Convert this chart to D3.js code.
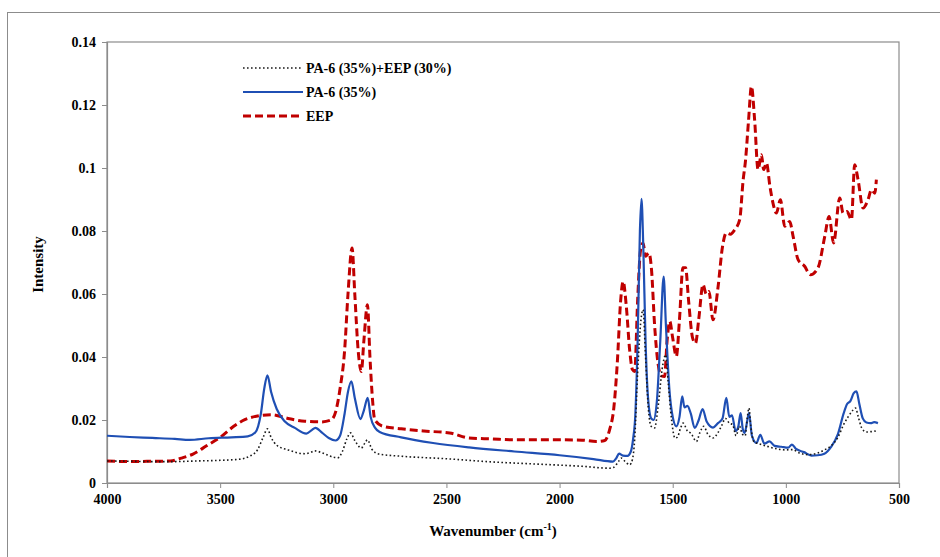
<!DOCTYPE html>
<html>
<head>
<meta charset="utf-8">
<script src="https://cdn.jsdelivr.net/npm/d3@7"></script>
<style>
  body { margin: 0; background: #fff; }
  svg { display: block; }
</style>
</head>
<body>
<svg id="chart"></svg>
<script>
// wavenumber (cm-1) / intensity pairs
var blendWave = [4000, 3900, 3800, 3700, 3600, 3500, 3420, 3370, 3335, 3310, 3291, 3275, 3250, 3200, 3126, 3100, 3082, 3040, 3000, 2980, 2960, 2940, 2924, 2905, 2876, 2862, 2849, 2830, 2800, 2700, 2500, 2300, 2100, 1900, 1780, 1760, 1740, 1727, 1710, 1690, 1678, 1668, 1655, 1640, 1631, 1620, 1608, 1595, 1580, 1565, 1545, 1531, 1520, 1505, 1490, 1480, 1465, 1454, 1435, 1420, 1395, 1380, 1363, 1345, 1322, 1300, 1285, 1267, 1250, 1235, 1220, 1205, 1192, 1180, 1170, 1163, 1155, 1140, 1120, 1090, 1050, 1000, 970, 940, 900, 860, 830, 800, 770, 745, 725, 705, 692, 680, 665, 645, 625, 610, 593];
var blendVal = [0.0070, 0.0069, 0.0068, 0.0068, 0.0070, 0.0072, 0.0075, 0.0085, 0.0105, 0.0145, 0.0172, 0.0145, 0.0120, 0.0105, 0.0093, 0.0097, 0.0102, 0.0093, 0.0082, 0.0080, 0.0100, 0.0140, 0.0159, 0.0135, 0.0111, 0.0125, 0.0137, 0.0108, 0.0092, 0.0085, 0.0077, 0.0067, 0.0060, 0.0053, 0.0047, 0.0050, 0.0068, 0.0079, 0.0068, 0.0058, 0.0075, 0.0140, 0.0350, 0.0520, 0.0550, 0.0400, 0.0240, 0.0180, 0.0175, 0.0240, 0.0370, 0.0407, 0.0320, 0.0200, 0.0143, 0.0145, 0.0175, 0.0190, 0.0165, 0.0158, 0.0132, 0.0160, 0.0180, 0.0155, 0.0143, 0.0160, 0.0180, 0.0205, 0.0190, 0.0185, 0.0150, 0.0180, 0.0155, 0.0150, 0.0210, 0.0238, 0.0180, 0.0130, 0.0125, 0.0118, 0.0110, 0.0105, 0.0106, 0.0095, 0.0090, 0.0095, 0.0105, 0.0118, 0.0145, 0.0185, 0.0210, 0.0230, 0.0238, 0.0210, 0.0175, 0.0162, 0.0163, 0.0165, 0.0163];

var pa6Wave = [4000, 3900, 3800, 3700, 3635, 3550, 3450, 3378, 3345, 3320, 3305, 3291, 3275, 3250, 3215, 3170, 3119, 3095, 3079, 3050, 3020, 2990, 2970, 2950, 2935, 2920, 2905, 2880, 2865, 2848, 2835, 2815, 2795, 2700, 2559, 2400, 2200, 2000, 1850, 1764, 1750, 1737, 1720, 1700, 1685, 1675, 1665, 1655, 1645, 1638, 1630, 1620, 1610, 1595, 1585, 1570, 1555, 1540, 1530, 1515, 1500, 1484, 1470, 1458, 1448, 1435, 1420, 1403, 1385, 1368, 1350, 1322, 1300, 1280, 1263, 1250, 1238, 1222, 1210, 1200, 1190, 1182, 1170, 1163, 1150, 1130, 1113, 1095, 1072, 1050, 1020, 990, 973, 955, 920, 887, 860, 830, 800, 770, 745, 730, 715, 700, 688, 675, 660, 644, 625, 610, 593];
var pa6Val = [0.0150, 0.0146, 0.0143, 0.0140, 0.0137, 0.0142, 0.0145, 0.0148, 0.0160, 0.0220, 0.0300, 0.0342, 0.0290, 0.0235, 0.0196, 0.0175, 0.0157, 0.0168, 0.0175, 0.0160, 0.0143, 0.0135, 0.0150, 0.0220, 0.0290, 0.0323, 0.0270, 0.0203, 0.0230, 0.0270, 0.0210, 0.0175, 0.0162, 0.0145, 0.0127, 0.0113, 0.0100, 0.0088, 0.0076, 0.0068, 0.0078, 0.0093, 0.0087, 0.0086, 0.0100, 0.0140, 0.0220, 0.0450, 0.0800, 0.0902, 0.0750, 0.0450, 0.0280, 0.0205, 0.0200, 0.0260, 0.0450, 0.0655, 0.0500, 0.0300, 0.0210, 0.0180, 0.0210, 0.0275, 0.0240, 0.0245, 0.0220, 0.0175, 0.0200, 0.0235, 0.0195, 0.0176, 0.0190, 0.0205, 0.0270, 0.0210, 0.0215, 0.0165, 0.0180, 0.0222, 0.0170, 0.0159, 0.0200, 0.0222, 0.0150, 0.0127, 0.0153, 0.0125, 0.0132, 0.0118, 0.0115, 0.0112, 0.0122, 0.0108, 0.0098, 0.0087, 0.0088, 0.0093, 0.0115, 0.0155, 0.0220, 0.0250, 0.0260, 0.0285, 0.0291, 0.0250, 0.0205, 0.0192, 0.0190, 0.0193, 0.0190];

var eepWave = [4000, 3900, 3800, 3720, 3671, 3620, 3560, 3494, 3440, 3391, 3340, 3273, 3200, 3126, 3053, 3010, 2990, 2970, 2950, 2935, 2917, 2905, 2890, 2876, 2865, 2849, 2838, 2825, 2817, 2780, 2700, 2600, 2486, 2400, 2300, 2200, 2100, 2000, 1900, 1838, 1800, 1779, 1760, 1745, 1730, 1719, 1705, 1690, 1678, 1668, 1655, 1642, 1631, 1620, 1605, 1594, 1580, 1565, 1550, 1536, 1525, 1513, 1500, 1484, 1470, 1455, 1443, 1430, 1412, 1399, 1385, 1366, 1352, 1340, 1322, 1300, 1280, 1263, 1245, 1226, 1204, 1189, 1178, 1165, 1152, 1138, 1123, 1108, 1098, 1086, 1070, 1057, 1042, 1024, 1005, 983, 968, 946, 917, 892, 858, 828, 809, 789, 762, 747, 730, 710, 696, 681, 659, 637, 622, 607, 600];
var eepVal = [0.0070, 0.0068, 0.0069, 0.0070, 0.0079, 0.0092, 0.0118, 0.0148, 0.0180, 0.0201, 0.0212, 0.0217, 0.0205, 0.0196, 0.0194, 0.0200, 0.0225, 0.0300, 0.0420, 0.0600, 0.0746, 0.0600, 0.0420, 0.0354, 0.0450, 0.0566, 0.0400, 0.0250, 0.0201, 0.0180, 0.0172, 0.0165, 0.0159, 0.0143, 0.0140, 0.0137, 0.0137, 0.0137, 0.0136, 0.0132, 0.0135, 0.0169, 0.0240, 0.0380, 0.0580, 0.0640, 0.0560, 0.0420, 0.0360, 0.0354, 0.0580, 0.0740, 0.0762, 0.0720, 0.0730, 0.0680, 0.0500, 0.0380, 0.0340, 0.0338, 0.0450, 0.0513, 0.0460, 0.0402, 0.0520, 0.0683, 0.0683, 0.0580, 0.0460, 0.0444, 0.0520, 0.0630, 0.0600, 0.0608, 0.0518, 0.0620, 0.0750, 0.0794, 0.0790, 0.0804, 0.0836, 0.0960, 0.1026, 0.1150, 0.1259, 0.1153, 0.0995, 0.1042, 0.0995, 0.1016, 0.0940, 0.0889, 0.0857, 0.0899, 0.0815, 0.0830, 0.0783, 0.0709, 0.0688, 0.0661, 0.0683, 0.0783, 0.0846, 0.0762, 0.0905, 0.0857, 0.0862, 0.0836, 0.1010, 0.0963, 0.0873, 0.0899, 0.0931, 0.0920, 0.0963];

var seriesNames = ['PA-6 (35%)+EEP (30%)', 'PA-6 (35%)', 'EEP'];
var xTicks = [4000, 3500, 3000, 2500, 2000, 1500, 1000, 500];
var yTicks = [0, 0.02, 0.04, 0.06, 0.08, 0.1, 0.12, 0.14];

var W = 940, H = 557;
var margin = { top: 42, right: 41, bottom: 74, left: 107 },
    width = W - margin.left - margin.right,
    height = H - margin.top - margin.bottom;

var svg = d3.select('#chart').attr('width', W).attr('height', H);

// outer frame (runs off the right and bottom edge)
svg.append('rect')
    .attr('x', 7.5).attr('y', 12.5)
    .attr('width', W).attr('height', H)
    .attr('fill', 'none').attr('stroke', '#8c8c8c').attr('stroke-width', 1);

var g = svg.append('g').attr('transform', 'translate(' + margin.left + ',' + margin.top + ')');

var x = d3.scaleLinear().domain([4000, 500]).range([0, width]);
var y = d3.scaleLinear().domain([0, 0.14]).range([height, 0]);

var fontFam = '"Liberation Serif", "Times New Roman", serif';

// plot box
g.append('rect')
    .attr('x', 0).attr('y', 0).attr('width', width).attr('height', height)
    .attr('fill', 'none').attr('stroke', '#8c8c8c').attr('stroke-width', 1.2);

var xAxis = g.append('g')
    .attr('transform', 'translate(0,' + height + ')')
    .call(d3.axisBottom(x).tickValues(xTicks).tickSize(5).tickPadding(6).tickFormat(d3.format('d')));
var yAxis = g.append('g')
    .call(d3.axisLeft(y).tickValues(yTicks).tickSize(5).tickPadding(6).tickFormat(function (d) { return d === 0 ? '0' : String(+d.toFixed(2)); }));

[xAxis, yAxis].forEach(function (a) {
    a.select('.domain').attr('stroke', '#8c8c8c').attr('stroke-width', 1.2);
    a.selectAll('.tick line').attr('stroke', '#8c8c8c');
    a.selectAll('.tick text')
        .attr('fill', '#000')
        .style('font-family', fontFam)
        .style('font-weight', 'bold')
        .style('font-size', '14px');
});

var line = d3.line()
    .x(function (d) { return x(d[0]); })
    .y(function (d) { return y(d[1]); })
    .curve(d3.curveMonotoneX);

function pairs(w, v) { return w.map(function (d, i) { return [d, v[i]]; }); }

var styles = [
    { data: pairs(blendWave, blendVal), color: '#1a1a1a', width: 1.6, dash: '1.6,2.4' },
    { data: pairs(pa6Wave, pa6Val), color: '#1f4fb4', width: 2.2, dash: null },
    { data: pairs(eepWave, eepVal), color: '#c00000', width: 3, dash: '8,4' }
];

// draw EEP first, then PA-6, blend on top like the original
[2, 1, 0].forEach(function (i) {
    var s = styles[i];
    g.append('path')
        .attr('d', line(s.data))
        .attr('fill', 'none')
        .attr('stroke', s.color)
        .attr('stroke-width', s.width)
        .attr('stroke-dasharray', s.dash);
});

// legend
var legend = svg.append('g').attr('transform', 'translate(243,68)');
seriesNames.forEach(function (name, i) {
    var s = styles[i];
    var row = legend.append('g').attr('transform', 'translate(0,' + i * 24 + ')');
    row.append('line')
        .attr('x1', 0).attr('x2', 60).attr('y1', 0).attr('y2', 0)
        .attr('stroke', s.color)
        .attr('stroke-width', s.width)
        .attr('stroke-dasharray', s.dash);
    row.append('text')
        .attr('x', 63).attr('y', 5)
        .style('font-family', fontFam)
        .style('font-weight', 'bold')
        .style('font-size', '14px')
        .text(name);
});

// axis titles
var xt = svg.append('text')
    .attr('x', margin.left + width / 2 - 10)
    .attr('y', 536)
    .attr('text-anchor', 'middle')
    .style('font-family', fontFam)
    .style('font-weight', 'bold')
    .style('font-size', '15px');
xt.append('tspan').text('Wavenumber (cm');
xt.append('tspan').attr('dy', -6).style('font-size', '10px').text('-1');
xt.append('tspan').attr('dy', 6).text(')');

svg.append('text')
    .attr('transform', 'translate(43,' + (margin.top + height / 2 + 2) + ') rotate(-90)')
    .attr('text-anchor', 'middle')
    .style('font-family', fontFam)
    .style('font-weight', 'bold')
    .style('font-size', '15px')
    .text('Intensity');
</script>
</body>
</html>
